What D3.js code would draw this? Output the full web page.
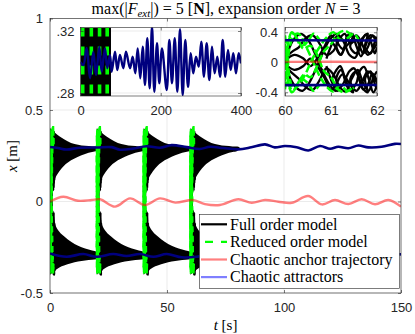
<!DOCTYPE html>
<html><head><meta charset="utf-8">
<script src="https://cdn.jsdelivr.net/npm/d3@7"></script>
<style>
html,body{margin:0;padding:0;background:#fff;}
svg{display:block;}
</style></head><body>
<svg id="chart" width="415" height="334"></svg>
<script>
// ================= DATA =================
const mainXTicks = [0, 50, 100, 150];
const mainXTickLabels = ["0", "50", "100", "150"];
const mainYTicks = [-0.5, 0, 0.5, 1];
const mainYTickLabels = ["-0.5", "0", "0.5", "1"];
const inset1XTicks = [0, 200, 400];
const inset1XTickLabels = ["0", "200", "400"];
const inset1YTicks = [0.28, 0.32];
const inset1YTickLabels = [".28", ".32"];
const inset2XTicks = [60, 61, 62];
const inset2XTickLabels = ["60", "61", "62"];
const inset2YTicks = [-0.4, 0, 0.4];
const inset2YTickLabels = ["-0.4", "0", "0.4"];

const legendLabels = ["Full order model", "Reduced order model", "Chaotic anchor trajectory", "Chaotic attractors"];

// restarts of the full / reduced order simulations
const restartTimes = [0, 20, 40, 60];
const lobeDurations = [20, 20, 20, 21];
// envelope of the fast full-order oscillation after each restart (relative time)
const lobeRelT  = [0, 1, 2, 4, 6, 9, 12, 15, 18, 20, 21];
const upperTop  = [0.40, 0.39, 0.377, 0.357, 0.340, 0.320, 0.310, 0.304, 0.301, 0.300, 0.297];
const upperBot  = [0.04, 0.08, 0.12, 0.165, 0.195, 0.225, 0.245, 0.260, 0.270, 0.276, 0.292];
const lowerTop  = [-0.04, -0.08, -0.12, -0.165, -0.19, -0.22, -0.242, -0.257, -0.268, -0.274, -0.29];
const lowerBot  = [-0.40, -0.39, -0.378, -0.36, -0.35, -0.337, -0.328, -0.322, -0.318, -0.315, -0.302];

// chaotic attractors (upper / lower)
const attrUpT = [0, 3.5, 7, 12.8, 20, 26.4, 30, 35.5, 41.3, 47, 52, 58.4, 64, 68.4, 74, 80.5, 86, 91.9, 96, 100.4, 105.4, 110.4, 115.4, 119.7, 123.2, 127.5, 131.8, 136, 141.7, 147.4, 150];
const attrUpV = [0.298, 0.292, 0.284, 0.294, 0.295, 0.297, 0.283, 0.289, 0.302, 0.294, 0.308, 0.297, 0.287, 0.299, 0.292, 0.285, 0.296, 0.312, 0.296, 0.303, 0.296, 0.279, 0.303, 0.288, 0.299, 0.291, 0.306, 0.296, 0.299, 0.315, 0.314];
const attrLoT = [0, 7.1, 14.2, 20, 27, 32.7, 38.5, 44.2, 49.9, 56.3, 62.7, 68.4, 75, 82, 90, 98, 106, 114, 122, 130, 138, 144, 148.5, 150];
const attrLoV = [-0.284, -0.302, -0.287, -0.302, -0.287, -0.298, -0.287, -0.302, -0.287, -0.305, -0.302, -0.287, -0.298, -0.29, -0.3, -0.292, -0.296, -0.288, -0.3, -0.293, -0.297, -0.29, -0.288, -0.289];

// chaotic anchor trajectory
const anchorT = [0, 5.7, 12, 17.8, 21.4, 27.8, 34.2, 40.6, 47, 53.5, 61, 66.2, 72.6, 80.5, 86.2, 91.9, 97.6, 103.3, 110.3, 116.2, 121.8, 127.5, 133.2, 138.9, 144.6, 150];
const anchorV = [0.0, 0.026, 0.004, 0.008, 0.012, -0.028, 0.017, -0.019, 0.017, -0.006, 0.008, -0.014, -0.019, 0.012, -0.007, 0.008, -0.001, -0.007, 0.03, -0.016, 0.008, -0.014, 0.012, -0.015, 0.008, -0.028];

// inset 1: upper attractor over a long horizon
const zoomAttrT = [0, 7, 15.4, 23.7, 32, 38.6, 46.9, 52.8, 61, 66.8, 73.5, 77.7, 86, 91.7, 98.4, 106.7, 113.4, 123.4, 130, 136.6, 142.5, 149, 155, 160.7, 166.5, 172.4, 178.2, 184, 190.7, 196.4, 203.1, 214.8, 221.4, 228, 234.8, 241.3, 248, 254.7, 261.2, 267.9, 274.6, 281.1, 287.9, 294.6, 301, 307.8, 314.5, 321, 327.7, 334.4, 341, 347.7, 354.4, 360.9, 367.6, 374.3, 380.8, 387.5, 394.3, 400];
const zoomAttrV = [0.300, 0.298, 0.309, 0.2895, 0.3066, 0.2916, 0.3099, 0.2937, 0.3088, 0.296, 0.3045, 0.2937, 0.3066, 0.2948, 0.3045, 0.296, 0.3066, 0.2959, 0.3034, 0.2927, 0.3088, 0.2895, 0.3099, 0.2852, 0.3153, 0.283, 0.3228, 0.2808, 0.3121, 0.2863, 0.3088, 0.2819, 0.3142, 0.2863, 0.3153, 0.2808, 0.3211, 0.2787, 0.3142, 0.284, 0.3056, 0.2927, 0.3034, 0.297, 0.3131, 0.2905, 0.3121, 0.2884, 0.3099, 0.2927, 0.3034, 0.2905, 0.3142, 0.2905, 0.3077, 0.2948, 0.3056, 0.2927, 0.3056, 0.2991];
const zoomFomSpan = [0, 76];
const zoomRomCols = [5.5, 27, 47.5, 66.5];

// inset 2: trajectories right after the restart at t = 60 s
const fomTraj = [
  [[60.0,0.0],[60.1,0.2],[60.22,0.33],[60.35,0.38],[60.5,0.3],[60.65,0.12],[60.8,-0.1],[60.95,-0.28],[61.1,-0.38],[61.25,-0.3],[61.4,-0.12],[61.5,-0.08],[61.6,-0.2],[61.7,-0.36],[61.8,-0.3],[61.9,-0.15],[62.0,-0.25]],
  [[60.0,0.0],[60.12,-0.22],[60.25,-0.34],[60.38,-0.38],[60.52,-0.28],[60.68,-0.08],[60.82,0.12],[60.97,0.3],[61.12,0.38],[61.27,0.28],[61.4,0.1],[61.52,0.06],[61.64,0.22],[61.75,0.37],[61.86,0.28],[61.95,0.12],[62.0,0.2]],
  [[60.0,0.05],[60.15,0.14],[60.3,0.2],[60.45,0.32],[60.6,0.36],[60.75,0.25],[60.9,0.1],[61.05,0.15],[61.2,0.33],[61.3,0.38],[61.42,0.25],[61.55,0.3],[61.7,0.12],[61.8,0.2],[61.9,0.36],[62.0,0.3]],
  [[60.0,-0.05],[60.15,-0.14],[60.3,-0.22],[60.45,-0.33],[60.6,-0.37],[60.75,-0.24],[60.9,-0.08],[61.05,-0.16],[61.2,-0.34],[61.32,-0.39],[61.45,-0.22],[61.58,-0.1],[61.7,-0.28],[61.82,-0.38],[61.92,-0.2],[62.0,-0.12]],
  [[61.0,0.3],[61.1,0.2],[61.2,0.1],[61.3,0.2],[61.35,0.35],[61.45,0.38],[61.55,0.22],[61.65,0.08],[61.75,0.22],[61.85,0.36],[61.95,0.32],[62.0,0.22]],
  [[61.0,-0.25],[61.1,-0.12],[61.2,-0.05],[61.3,-0.2],[61.42,-0.37],[61.55,-0.28],[61.62,-0.12],[61.72,-0.06],[61.82,-0.22],[61.92,-0.4],[62.0,-0.3]],
  [[60.9,0.05],[61.05,0.28],[61.15,0.36],[61.12,0.2],[61.22,0.1],[61.35,0.3],[61.48,0.37],[61.42,0.2],[61.55,0.12],[61.68,0.32],[61.8,0.38],[61.74,0.2],[61.86,0.12],[61.97,0.3],[62.05,0.36]],
  [[60.9,-0.05],[61.05,-0.3],[61.15,-0.38],[61.12,-0.2],[61.22,-0.1],[61.35,-0.32],[61.48,-0.4],[61.42,-0.22],[61.55,-0.12],[61.68,-0.34],[61.8,-0.4],[61.74,-0.22],[61.86,-0.12],[61.97,-0.32],[62.05,-0.38]],
  [[60.0,0.02],[60.2,0.1],[60.4,0.05],[60.55,-0.05],[60.7,0.05],[60.85,0.2],[61.0,0.36],[61.1,0.3],[61.25,0.18],[61.4,0.26],[61.55,0.36],[61.65,0.28],[61.8,0.1],[61.95,0.2],[62.05,0.3]],
  [[60.0,-0.02],[60.2,-0.1],[60.4,-0.05],[60.55,0.05],[60.7,-0.05],[60.85,-0.2],[61.0,-0.37],[61.1,-0.3],[61.25,-0.16],[61.4,-0.28],[61.55,-0.38],[61.65,-0.3],[61.8,-0.12],[61.95,-0.22],[62.05,-0.34]]
];
const romTraj = [
  [[60.0,0.36],[60.05,0.1],[60.1,-0.2],[60.18,-0.36],[60.3,-0.3],[60.45,-0.15],[60.6,0.05],[60.75,0.2],[60.9,0.33],[61.05,0.4],[61.2,0.3],[61.35,0.32],[61.5,0.38],[61.6,0.3]],
  [[60.0,-0.36],[60.05,-0.1],[60.1,0.2],[60.2,0.36],[60.3,0.38],[60.45,0.22],[60.6,0.02],[60.75,-0.18],[60.9,-0.32],[61.05,-0.39],[61.2,-0.3],[61.35,-0.38],[61.5,-0.34]],
  [[60.0,0.1],[60.08,0.3],[60.18,0.38],[60.3,0.28],[60.4,0.18],[60.55,0.22],[60.7,0.1],[60.85,-0.12],[61.0,-0.2],[61.15,-0.36],[61.3,-0.4],[61.45,-0.35]],
  [[60.0,-0.12],[60.08,-0.3],[60.18,-0.38],[60.3,-0.26],[60.42,-0.16],[60.55,-0.2],[60.7,-0.05],[60.85,0.15],[61.0,0.24],[61.15,0.38],[61.3,0.42],[61.45,0.36]],
  [[60.0,0.25],[60.04,-0.05],[60.08,-0.3],[60.15,-0.4],[60.25,-0.32],[60.35,-0.22],[60.5,-0.28],[60.62,-0.38],[60.75,-0.3]],
  [[60.0,-0.25],[60.04,0.05],[60.08,0.3],[60.15,0.4],[60.25,0.32],[60.35,0.22],[60.5,0.28],[60.62,0.38],[60.75,0.3]]
];
const trajRefTime = 60;

// ================= DRAWING =================
const COL_NAVY = "#00007f";
const COL_AX = "#262626";
const COL_GRID = "#e3e3e3";
const SANS = "'Liberation Sans', Arial, Helvetica, sans-serif";
const SERIF = "'Liberation Serif', 'Times New Roman', serif";

const svg = d3.select("#chart");
svg.append("rect").attr("width", 415).attr("height", 334).attr("fill", "#fff");
const defs = svg.append("defs");
function addClip(id, x0, y0, x1, y1) {
  defs.append("clipPath").attr("id", id).append("rect")
    .attr("x", x0).attr("y", y0).attr("width", x1 - x0).attr("height", y1 - y0);
}

const M = {left: 50, right: 401, top: 18.5, bottom: 293};
const xM = d3.scaleLinear().domain([0, 150]).range([M.left, M.right]);
const yM = d3.scaleLinear().domain([-0.5, 1]).range([M.bottom, M.top]);
addClip("clipMain", M.left, M.top, M.right, M.bottom);

function grid(g, xs, ys, xt, yt, box) {
  xt.forEach(t => g.append("line").attr("x1", xs(t)).attr("x2", xs(t)).attr("y1", box.top).attr("y2", box.bottom)
    .attr("stroke", COL_GRID).attr("stroke-width", 0.7));
  yt.forEach(t => g.append("line").attr("y1", ys(t)).attr("y2", ys(t)).attr("x1", box.left).attr("x2", box.right)
    .attr("stroke", COL_GRID).attr("stroke-width", 0.7));
}
function styleAxis(g, fs) {
  g.select(".domain").remove();
  g.selectAll(".tick line").attr("stroke", COL_AX).attr("stroke-width", 0.6);
  g.selectAll(".tick text").attr("fill", COL_AX).style("font-family", SANS).style("font-size", fs + "px");
}
function axesFrame(g, xs, ys, xt, yt, xl, yl, box, fs, padX, padY) {
  const gb = g.append("g").attr("transform", `translate(0,${box.bottom})`)
    .call(d3.axisBottom(xs).tickValues(xt).tickFormat((d, i) => xl[i]).tickSize(-3).tickPadding(padX));
  styleAxis(gb, fs);
  const gl = g.append("g").attr("transform", `translate(${box.left},0)`)
    .call(d3.axisLeft(ys).tickValues(yt).tickFormat((d, i) => yl[i]).tickSize(-3).tickPadding(padY));
  styleAxis(gl, fs);
  const gt = g.append("g").attr("transform", `translate(0,${box.top})`)
    .call(d3.axisTop(xs).tickValues(xt).tickFormat("").tickSize(-3));
  styleAxis(gt, fs);
  const gr = g.append("g").attr("transform", `translate(${box.right},0)`)
    .call(d3.axisRight(ys).tickValues(yt).tickFormat("").tickSize(-3));
  styleAxis(gr, fs);
  g.append("rect").attr("x", box.left).attr("y", box.top).attr("width", box.right - box.left).attr("height", box.bottom - box.top)
    .attr("fill", "none").attr("stroke", COL_AX).attr("stroke-width", 0.6);
}

// ---------- main axes ----------
const gMain = svg.append("g");
grid(gMain, xM, yM, mainXTicks, mainYTicks, M);
const plotM = gMain.append("g").attr("clip-path", "url(#clipMain)");

const smooth = d3.curveCatmullRom.alpha(0.5);
// FOM envelopes
restartTimes.forEach((t0, k) => {
  const pts = lobeRelT.map((r, i) => ({r, ut: upperTop[i], ub: upperBot[i], lt: lowerTop[i], lb: lowerBot[i]}))
    .filter(p => p.r <= lobeDurations[k]);
  const aU = d3.area().x(p => xM(t0 + p.r)).y0(p => yM(p.ub)).y1(p => yM(p.ut)).curve(d3.curveMonotoneX);
  const aL = d3.area().x(p => xM(t0 + p.r)).y0(p => yM(p.lb)).y1(p => yM(p.lt)).curve(d3.curveMonotoneX);
  plotM.append("path").attr("d", aU(pts)).attr("fill", "#000");
  plotM.append("path").attr("d", aL(pts)).attr("fill", "#000");
});
// FOM / ROM transients after each restart
restartTimes.forEach(t0 => {
  const ln = d3.line().x(d => xM(t0 + d[0] - trajRefTime)).y(d => yM(d[1])).curve(smooth);
  fomTraj.forEach(tr => plotM.append("path").attr("d", ln(tr)).attr("fill", "none").attr("stroke", "#000").attr("stroke-width", 1.6));
  romTraj.forEach(tr => plotM.append("path").attr("d", ln(tr)).attr("fill", "none").attr("stroke", "#00ff00")
    .attr("stroke-width", 2.2).attr("stroke-dasharray", "6,4"));
});
const lineM = d3.line().x(d => xM(d[0])).y(d => yM(d[1])).curve(smooth);
plotM.append("path").attr("d", lineM(d3.zip(anchorT, anchorV))).attr("fill", "none")
  .attr("stroke", "rgba(255,0,0,0.5)").attr("stroke-width", 2.4);
plotM.append("path").attr("d", lineM(d3.zip(attrUpT, attrUpV))).attr("fill", "none")
  .attr("stroke", COL_NAVY).attr("stroke-width", 2.6);
plotM.append("path").attr("d", lineM(d3.zip(attrLoT, attrLoV))).attr("fill", "none")
  .attr("stroke", COL_NAVY).attr("stroke-width", 2.6);

axesFrame(gMain, xM, yM, mainXTicks, mainYTicks, mainXTickLabels, mainYTickLabels, M, 13, 10, 7);

// axis labels
const xl = svg.append("text").attr("x", 225.5).attr("y", 330).attr("text-anchor", "middle")
  .style("font-family", SERIF).style("font-size", "15px");
xl.append("tspan").style("font-style", "italic").text("t");
xl.append("tspan").text(" [s]");
const yl = svg.append("text").attr("transform", "translate(17,156) rotate(-90)").attr("text-anchor", "middle")
  .style("font-family", SERIF).style("font-size", "15px");
yl.append("tspan").style("font-style", "italic").text("x");
yl.append("tspan").text(" [m]");

// title
const title = svg.append("text").attr("x", 226).attr("y", 13.5).attr("text-anchor", "middle")
  .style("font-family", SERIF).style("font-size", "16px").attr("fill", "#000");
title.append("tspan").text("max(|");
title.append("tspan").style("font-style", "italic").text("F");
title.append("tspan").style("font-style", "italic").style("font-size", "11px").attr("dy", 3).text("ext");
title.append("tspan").attr("dy", -3).text("|) = 5 [");
title.append("tspan").style("font-weight", "bold").text("N");
title.append("tspan").text("], expansion order ");
title.append("tspan").style("font-style", "italic").text("N");
title.append("tspan").text(" = 3");

// ---------- inset 1 ----------
const B1 = {left: 80.5, right: 241, top: 27.5, bottom: 96};
const xI1 = d3.scaleLinear().domain([0, 400]).range([B1.left, B1.right]);
const yI1 = d3.scaleLinear().domain([0.28, 0.32]).range([93, 31]);
addClip("clipI1", B1.left, B1.top, B1.right, B1.bottom);
const gI1 = svg.append("g");
gI1.append("rect").attr("x", B1.left).attr("y", B1.top).attr("width", B1.right - B1.left).attr("height", B1.bottom - B1.top).attr("fill", "#fff");
grid(gI1, xI1, yI1, inset1XTicks, inset1YTicks, B1);
const pI1 = gI1.append("g").attr("clip-path", "url(#clipI1)");
pI1.append("rect").attr("x", xI1(zoomFomSpan[0])).attr("width", xI1(zoomFomSpan[1]) - xI1(zoomFomSpan[0]))
  .attr("y", B1.top).attr("height", B1.bottom - B1.top).attr("fill", "#000");
zoomRomCols.forEach(c => pI1.append("line").attr("x1", xI1(c)).attr("x2", xI1(c)).attr("y1", B1.top).attr("y2", B1.bottom)
  .attr("stroke", "#00ff00").attr("stroke-width", 3.6).attr("stroke-dasharray", "9,10"));
const lineI1 = d3.line().x(d => xI1(d[0])).y(d => yI1(d[1])).curve(smooth);
pI1.append("path").attr("d", lineI1(d3.zip(zoomAttrT, zoomAttrV))).attr("fill", "none")
  .attr("stroke", COL_NAVY).attr("stroke-width", 2.4);
axesFrame(gI1, xI1, yI1, inset1XTicks, inset1YTicks, inset1XTickLabels, inset1YTickLabels, B1, 13, 10, 6);

// ---------- inset 2 ----------
const B2 = {left: 285, right: 377, top: 27.5, bottom: 96};
const xI2 = d3.scaleLinear().domain([60, 62]).range([B2.left, B2.right]);
const yI2 = d3.scaleLinear().domain([-0.4, 0.4]).range([92.3, 32.3]);
addClip("clipI2", B2.left, B2.top, B2.right, B2.bottom);
const gI2 = svg.append("g");
gI2.append("rect").attr("x", B2.left).attr("y", B2.top).attr("width", B2.right - B2.left).attr("height", B2.bottom - B2.top).attr("fill", "#fff");
grid(gI2, xI2, yI2, inset2XTicks, inset2YTicks, B2);
const pI2 = gI2.append("g").attr("clip-path", "url(#clipI2)");
const lineI2 = d3.line().x(d => xI2(d[0])).y(d => yI2(d[1])).curve(smooth);
fomTraj.forEach(tr => pI2.append("path").attr("d", lineI2(tr)).attr("fill", "none").attr("stroke", "#000").attr("stroke-width", 2.3));
romTraj.forEach(tr => pI2.append("path").attr("d", lineI2(tr)).attr("fill", "none").attr("stroke", "#00ff00")
  .attr("stroke-width", 2.5).attr("stroke-dasharray", "8,3"));
pI2.append("path").attr("d", lineI2(d3.zip(anchorT, anchorV))).attr("fill", "none")
  .attr("stroke", "rgba(255,0,0,0.5)").attr("stroke-width", 2.4);
pI2.append("path").attr("d", lineI2(d3.zip(attrUpT, attrUpV))).attr("fill", "none").attr("stroke", COL_NAVY).attr("stroke-width", 2.6);
pI2.append("path").attr("d", lineI2(d3.zip(attrLoT, attrLoV))).attr("fill", "none").attr("stroke", COL_NAVY).attr("stroke-width", 2.6);
axesFrame(gI2, xI2, yI2, inset2XTicks, inset2YTicks, inset2XTickLabels, inset2YTickLabels, B2, 13, 10, 7);

// ---------- legend ----------
const L = {x: 199.5, y: 214.5, w: 200, h: 74};
const gL = svg.append("g");
gL.append("rect").attr("x", L.x).attr("y", L.y).attr("width", L.w).attr("height", L.h)
  .attr("fill", "#fff").attr("stroke", COL_AX).attr("stroke-width", 0.6);
const legStyles = [
  {stroke: "#000", dash: null},
  {stroke: "#00ff00", dash: "8,8", off: 12},
  {stroke: "rgba(255,0,0,0.5)", dash: null},
  {stroke: "rgba(0,0,255,0.5)", dash: null}
];
legendLabels.forEach((lab, i) => {
  const yy = L.y + 9.8 + i * 17.6;
  const ln = gL.append("line").attr("x1", L.x + 1.5).attr("x2", L.x + 27.5).attr("y1", yy).attr("y2", yy)
    .attr("stroke", legStyles[i].stroke).attr("stroke-width", 2.2);
  if (legStyles[i].dash) ln.attr("stroke-dasharray", legStyles[i].dash).attr("stroke-dashoffset", legStyles[i].off);
  gL.append("text").attr("x", L.x + 30.5).attr("y", yy).attr("dy", "0.33em")
    .style("font-family", SERIF).style("font-size", "16px").attr("fill", "#000").text(lab);
});
</script></body></html>
